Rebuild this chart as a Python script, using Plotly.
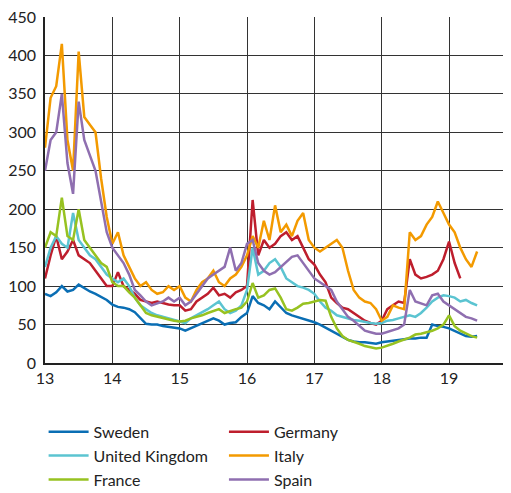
import plotly.graph_objects as go

start_year = 13
months_per_year = 12

sweden = [90, 87, 92, 100, 93, 95, 102, 97, 93, 90, 86, 82,
          76, 73, 72, 70, 66, 58, 51, 50, 50, 48, 47, 46,
          45, 42, 45, 48, 52, 55, 58, 55, 50, 52, 53, 60,
          65, 87, 78, 75, 70, 80, 72, 65, 62, 60, 58, 56,
          53, 50, 46, 42, 38, 33, 30, 28, 27, 27, 26, 25,
          27, 28, 29, 30, 31, 32, 32, 33, 33, 50, 48, 47,
          45, 42, 38, 35, 34, 35]

germany = [110, 140, 165, 135, 145, 160, 140, 135, 130, 120, 110, 100,
           100, 118, 100, 95, 90, 82, 80, 78, 80, 78, 76, 75,
           75, 68, 70, 80, 85, 90, 98, 88, 90, 85, 92, 95,
           100, 212, 140, 160, 150, 155, 165, 170, 160, 165, 150, 135,
           128, 115, 105, 85, 78, 72, 70, 65, 60, 55, 52, 50,
           55, 70, 75, 80, 78, 135, 115, 110, 112, 115, 120, 135,
           158, 130, 110]

uk = [125, 150, 165, 155, 150, 195, 160, 150, 140, 135, 125, 115,
      110, 105, 110, 100, 85, 75, 70, 65, 62, 60, 58, 55,
      54, 52, 58, 62, 65, 70, 75, 80, 70, 65, 68, 75,
      95, 150, 115, 120, 130, 135, 125, 110, 105, 100, 98, 95,
      90, 80, 72, 68, 62, 60, 58, 56, 55, 53, 52, 51,
      52, 55, 56, 58, 60, 62, 60, 65, 72, 80, 85, 88,
      87, 85, 80, 82, 78, 75]

italy = [280, 345, 360, 415, 290, 250, 405, 320, 310, 300, 240, 190,
         155, 170, 140, 125, 110, 100, 105, 95, 90, 92, 100, 95,
         100, 85, 80, 95, 105, 110, 120, 105, 100, 110, 115, 125,
         140, 165, 150, 185, 160, 205, 170, 180, 165, 185, 195, 160,
         150, 145, 150, 155, 160, 150, 120, 95, 85, 80, 78, 70,
         55, 60, 75, 72, 70, 170, 160, 165, 180, 190, 210, 195,
         180, 170, 150, 135, 125, 145]

france = [150, 170, 165, 215, 165, 160, 200, 160, 150, 140, 130, 125,
          105, 100, 100, 92, 85, 75, 65, 62, 60, 58, 57, 55,
          54, 55, 58, 60, 62, 65, 68, 70, 65, 68, 70, 72,
          80, 104, 85, 88, 95, 97, 85, 70, 68, 72, 77, 78,
          80, 82, 81, 60, 45, 35, 30, 28, 25, 22, 20, 19,
          20, 22, 25, 28, 30, 33, 37, 38, 40, 42, 45, 50,
          62, 48, 42, 38, 35, 33]

spain = [250, 290, 300, 350, 260, 220, 340, 290, 270, 250, 210, 170,
         150, 140, 130, 115, 95, 88, 80, 75, 78, 80, 85, 80,
         85, 75, 80, 90, 100, 110, 115, 120, 125, 150, 120, 130,
         155, 160, 130, 120, 115, 118, 125, 132, 138, 140, 130, 120,
         110, 105, 100, 95, 80, 70, 60, 55, 48, 42, 40, 38,
         38, 40, 42, 45, 50, 95, 80, 78, 75, 88, 90, 80,
         75, 70, 65, 60, 58, 55]

year_ticks = [13, 14, 15, 16, 17, 18, 19]
value_ticks = [0, 50, 100, 150, 200, 250, 300, 350, 400, 450]

# (name, values, colour, legend column)
series = [
    ("Sweden", sweden, "#0A6EB4", "legend"),
    ("Germany", germany, "#BE1E2D", "legend2"),
    ("United Kingdom", uk, "#5BC4D1", "legend"),
    ("Italy", italy, "#F39A00", "legend2"),
    ("France", france, "#97C221", "legend"),
    ("Spain", spain, "#8F6FB0", "legend2"),
]

fig = go.Figure()
for name, vals, color, leg in series:
    xs = [start_year + i / months_per_year for i in range(len(vals))]
    fig.add_trace(go.Scatter(x=xs, y=vals, mode="lines", name=name, legend=leg,
                             line=dict(color=color, width=2.5)))

font = dict(family="Lato, Carlito, 'Open Sans', sans-serif", size=16, color="#222222")

legend_common = dict(orientation="v", xanchor="left", yref="container", y=0.161,
                     yanchor="top", font=font, itemwidth=40, tracegroupgap=0,
                     bgcolor="rgba(0,0,0,0)")

fig.update_layout(
    width=503, height=485,
    margin=dict(l=37, r=0, t=9, b=130, autoexpand=False),
    paper_bgcolor="white", plot_bgcolor="white",
    font=font,
    showlegend=True,
    legend=dict(x=-0.003, **legend_common),
    legend2=dict(x=0.384, **legend_common),
    xaxis=dict(range=[13, 19.92], tickvals=year_ticks, ticktext=[str(t) for t in year_ticks],
               showgrid=True, gridcolor="#333333", gridwidth=1.2,
               showline=True, linecolor="#222222", linewidth=1.5,
               zeroline=False, ticks="", tickfont=font, automargin=False),
    yaxis=dict(range=[0, 450], tickvals=value_ticks,
               showgrid=True, gridcolor="#333333", gridwidth=1.2,
               showline=True, linecolor="#222222", linewidth=1.5,
               zeroline=False, ticks="", tickfont=font, ticklabelstandoff=4,
               automargin=False, ticklabeloverflow="allow"),
)

fig.write_html("out.html")
